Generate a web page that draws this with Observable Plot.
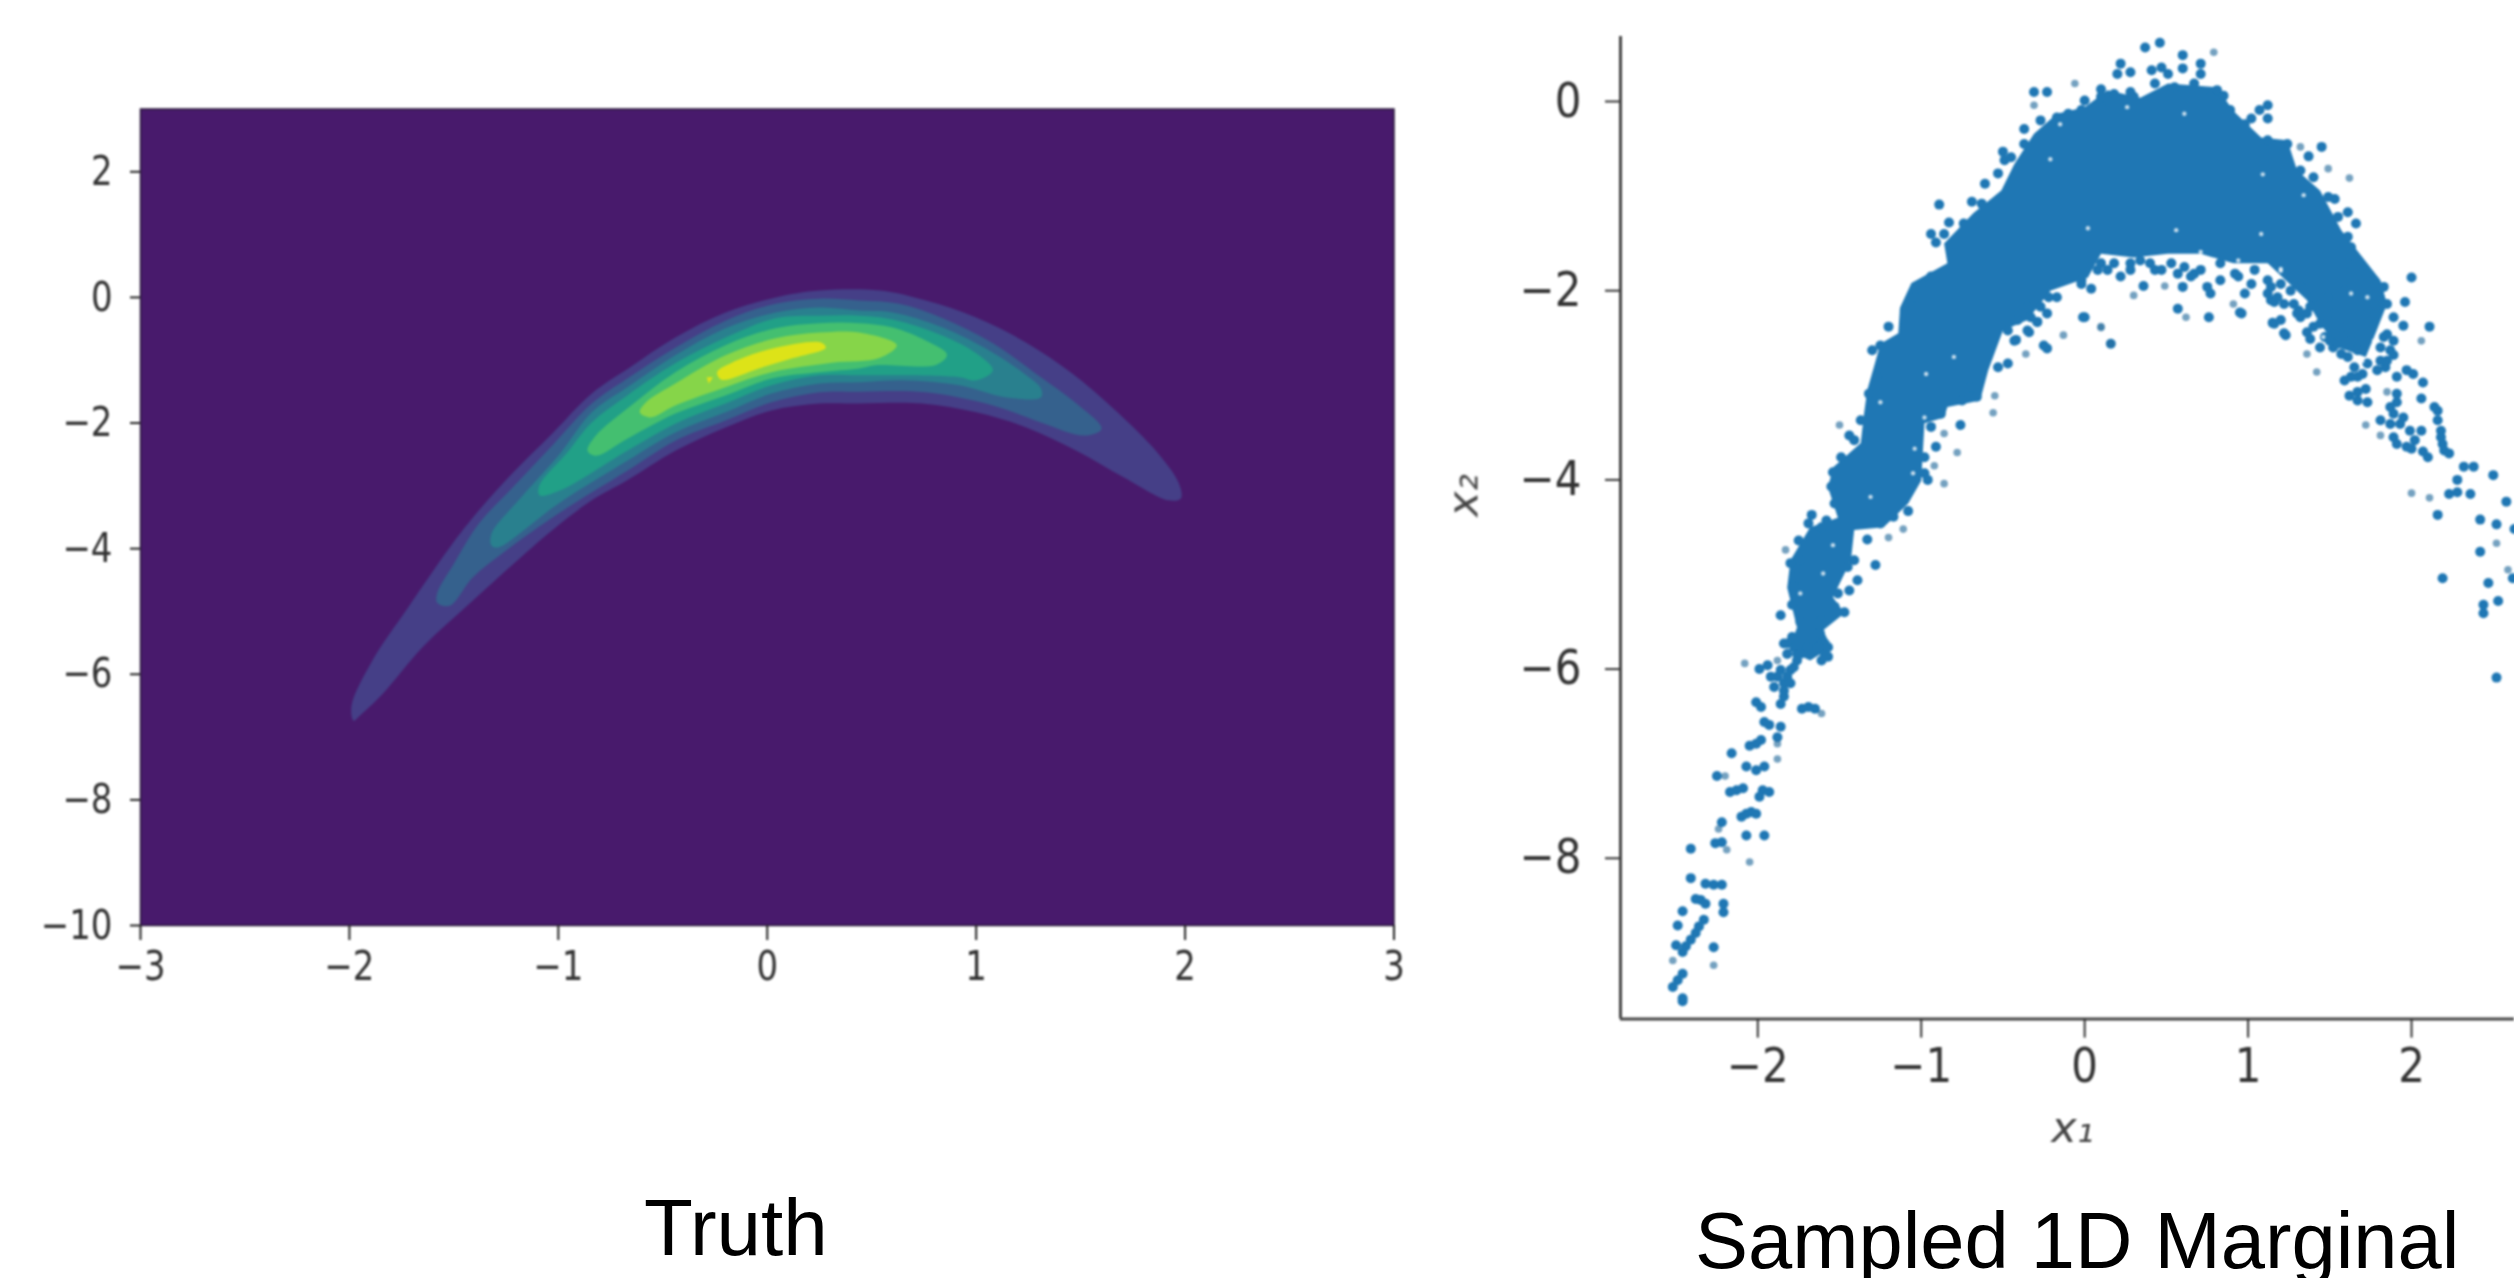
<!DOCTYPE html>
<html>
<head>
<meta charset="utf-8">
<script src="https://cdn.jsdelivr.net/npm/d3@7"></script>
<script src="https://cdn.jsdelivr.net/npm/@observablehq/plot@0.6"></script>
<style>
html,body{margin:0;padding:0;background:#fff;overflow:hidden;width:2514px;height:1278px}
#wrap{position:relative;width:2514px;height:1278px;overflow:hidden}
#wrap svg{position:absolute;top:0;filter:blur(0.8px)}
.cap{position:absolute;font-family:"Liberation Sans",Arial,sans-serif;line-height:1;color:#000;white-space:nowrap}
</style>
</head>
<body>
<div id="wrap"></div>
<script>
// ---------- Truth panel: filled density bands, [x1, x2] ----------
const truthTicksX = [-3, -2, -1, 0, 1, 2, 3];
const truthTicksY = [2, 0, -2, -4, -6, -8, -10];
const bandColors = ["#453f87", "#35618d", "#29808e", "#21a087", "#44bf70", "#86d549", "#dde318"];
const band1 = [[-1.98,-6.74],[-1.99,-6.50],[-1.89,-5.78],[-1.72,-4.94],[-1.52,-3.98],[-1.38,-3.39],[-1.22,-2.80],[-1.03,-2.17],[-0.84,-1.53],[-0.66,-1.12],[-0.44,-0.64],[-0.20,-0.24],[0.04,0],[0.25,0.11],[0.54,0.11],[0.76,-0.05],[1.00,-0.32],[1.24,-0.72],[1.46,-1.21],[1.65,-1.75],[1.87,-2.48],[1.97,-2.96],[1.98,-3.20],[1.92,-3.23],[1.71,-2.87],[1.48,-2.44],[1.24,-2.07],[1.00,-1.83],[0.74,-1.69],[0.44,-1.69],[0.25,-1.69],[0.02,-1.80],[-0.20,-2.07],[-0.44,-2.44],[-0.67,-2.91],[-0.84,-3.23],[-1.03,-3.71],[-1.18,-4.14],[-1.41,-4.83],[-1.65,-5.57],[-1.84,-6.31],[-1.95,-6.66]];
const band2 = [[-1.58,-4.86],[-1.58,-4.71],[-1.50,-4.24],[-1.38,-3.60],[-1.22,-3.03],[-1.03,-2.36],[-0.84,-1.69],[-0.67,-1.29],[-0.44,-0.80],[-0.20,-0.37],[0.04,-0.10],[0.25,-0.02],[0.44,-0.05],[0.63,-0.10],[0.84,-0.33],[1.08,-0.73],[1.31,-1.27],[1.48,-1.69],[1.60,-2.09],[1.52,-2.20],[1.31,-1.99],[1.08,-1.72],[0.76,-1.51],[0.44,-1.50],[0.25,-1.51],[0.02,-1.67],[-0.20,-1.96],[-0.44,-2.28],[-0.67,-2.76],[-0.99,-3.42],[-1.25,-4.03],[-1.41,-4.46],[-1.52,-4.91]];
const band3 = [[-1.32,-3.95],[-1.32,-3.76],[-1.18,-3.19],[-0.99,-2.48],[-0.84,-1.83],[-0.67,-1.43],[-0.44,-0.92],[-0.20,-0.49],[0.04,-0.24],[0.25,-0.16],[0.44,-0.21],[0.60,-0.24],[0.84,-0.48],[1.08,-0.88],[1.24,-1.24],[1.31,-1.45],[1.31,-1.59],[1.14,-1.59],[0.92,-1.40],[0.65,-1.32],[0.44,-1.35],[0.25,-1.37],[0.02,-1.53],[-0.20,-1.83],[-0.44,-2.15],[-0.67,-2.60],[-0.99,-3.26],[-1.29,-3.98]];
const band4 = [[-1.09,-3.15],[-1.09,-2.99],[-0.96,-2.48],[-0.84,-1.99],[-0.67,-1.56],[-0.44,-1.05],[-0.20,-0.64],[0.04,-0.33],[0.25,-0.29],[0.44,-0.29],[0.60,-0.35],[0.84,-0.61],[1.00,-0.89],[1.08,-1.16],[1.00,-1.32],[0.92,-1.27],[0.63,-1.24],[0.44,-1.24],[0.25,-1.24],[0.02,-1.40],[-0.20,-1.69],[-0.44,-2.01],[-0.67,-2.44],[-0.99,-3.07]];
const band5 = [[-0.86,-2.44],[-0.82,-2.20],[-0.67,-1.77],[-0.44,-1.19],[-0.20,-0.76],[0.04,-0.49],[0.25,-0.41],[0.44,-0.41],[0.60,-0.48],[0.76,-0.69],[0.86,-0.91],[0.81,-1.07],[0.52,-1.08],[0.44,-1.13],[0.25,-1.19],[0.02,-1.29],[-0.20,-1.56],[-0.44,-1.85],[-0.67,-2.25],[-0.82,-2.52]];
const band6 = [[-0.61,-1.83],[-0.58,-1.67],[-0.44,-1.37],[-0.20,-0.92],[0.04,-0.65],[0.25,-0.56],[0.44,-0.56],[0.62,-0.76],[0.54,-0.96],[0.31,-1.04],[0.02,-1.19],[-0.20,-1.43],[-0.44,-1.72],[-0.56,-1.91]];
const band7 = [[-0.24,-1.19],[-0.17,-1.04],[0.04,-0.80],[0.26,-0.72],[0.28,-0.80],[0.12,-0.97],[-0.04,-1.13],[-0.22,-1.31]];
const band7b = [[-0.29,-1.27],[-0.26,-1.27],[-0.28,-1.37]];

// ---------- Sampled panel: dense core outline and the separately visible samples, [x1, x2] ----------
const sampleTicksX = [-2, -1, 0, 1, 2];
const sampleTicksY = [0, -2, -4, -6, -8];
const denseCore = [[-1.81,-5.80],[-1.76,-5.56],[-1.82,-5.14],[-1.80,-4.85],[-1.68,-4.50],[-1.51,-4.40],[-1.57,-4.08],[-1.54,-3.87],[-1.37,-3.61],[-1.35,-3.30],[-1.33,-3.05],[-1.29,-2.81],[-1.25,-2.56],[-1.14,-2.45],[-1.13,-2.18],[-1.06,-1.92],[-0.84,-1.71],[-0.86,-1.50],[-0.68,-1.18],[-0.51,-0.94],[-0.43,-0.66],[-0.31,-0.34],[-0.17,-0.13],[0,-0.06],[0.14,0.12],[0.34,0.04],[0.51,0.19],[0.81,0.15],[0.91,-0.10],[1.08,-0.38],[1.24,-0.41],[1.30,-0.73],[1.44,-0.94],[1.57,-1.36],[1.81,-1.89],[1.85,-2.14],[1.78,-2.45],[1.72,-2.70],[1.55,-2.60],[1.44,-2.35],[1.36,-2.10],[1.12,-1.71],[0.91,-1.71],[0.71,-1.61],[0.51,-1.61],[0.30,-1.65],[0.10,-1.61],[0.02,-1.86],[-0.21,-2.00],[-0.35,-2.31],[-0.50,-2.42],[-0.59,-2.84],[-0.64,-3.16],[-0.84,-3.23],[-0.86,-3.34],[-0.98,-3.40],[-1.00,-4.01],[-1.08,-4.25],[-1.23,-4.50],[-1.41,-4.53],[-1.43,-4.85],[-1.54,-5.24],[-1.47,-5.41],[-1.60,-5.59],[-1.55,-5.77],[-1.68,-5.91]];
const largeDots = [[-1.84,-5.73],[-1.76,-5.84],[-1.61,-5.73],[-1.57,-5.87],[-1.99,-6.00],[-1.94,-5.96],[-1.88,-6.08],[-1.84,-6.15],[-1.80,-6.01],[-1.76,-5.91],[-1.84,-6.29],[-1.86,-6.37],[-2.01,-6.35],[-1.98,-6.40],[-1.96,-6.56],[-1.93,-6.59],[-1.86,-6.61],[-1.88,-6.72],[-1.69,-6.40],[-1.73,-6.42],[-1.65,-6.42],[-2.01,-6.79],[-2.05,-6.81],[-1.98,-6.75],[-2.16,-6.89],[-2.07,-7.03],[-2.01,-7.07],[-1.96,-7.03],[-2.25,-7.13],[-2.13,-7.28],[-2.09,-7.26],[-2.17,-7.30],[-1.97,-7.28],[-1.93,-7.30],[-1.99,-7.35],[-2.04,-7.51],[-2.01,-7.53],[-2.10,-7.56],[-2.07,-7.53],[-2.22,-7.62],[-2.07,-7.76],[-1.96,-7.76],[-2.41,-7.90],[-2.26,-7.84],[-2.22,-7.83],[-2.41,-8.21],[-2.32,-8.27],[-2.27,-8.28],[-2.22,-8.28],[-2.35,-8.44],[-2.38,-8.43],[-2.32,-8.48],[-2.21,-8.48],[-2.21,-8.57],[-2.46,-8.56],[-2.49,-8.71],[-2.33,-8.65],[-2.36,-8.72],[-2.38,-8.79],[-2.41,-8.86],[-2.44,-8.93],[-2.46,-8.99],[-2.50,-8.92],[-2.27,-8.94],[-2.46,-9.22],[-2.49,-9.29],[-2.52,-9.36],[-2.46,-9.51],[-2.46,-9.48],
[-1.20,-2.38],[-1.25,-2.58],[-1.30,-2.63],[-1.32,-3.09],[-1.44,-3.53],[-1.54,-3.92],[-1.67,-4.37],[-1.69,-4.46],[-1.58,-4.43],[-1.75,-4.64],[-1.80,-4.88],[-1.78,-5.13],[-1.79,-5.32],[-1.86,-5.43],[0,-2.28],[0.16,-2.56],[-0.23,-2.61],[-0.29,-2.33],[-0.34,-2.44],[-0.43,-2.53],[-0.47,-2.77],[-0.53,-2.81],[-0.70,-3.02],[-0.75,-3.16],[-0.66,-3.12],[-0.76,-3.42],[-0.91,-3.65],[-0.98,-3.93],[-1.08,-4.33],[-1.33,-4.63],[-1.41,-4.85],[-1.28,-4.90],[-1.39,-5.06],[-1.44,-5.17],[-1.47,-5.40],[-1.62,-5.62],[-1.59,-5.73],[-1.65,-5.52],[-1.82,-5.73],[-1.79,-5.66],[-1.74,-5.50],
[0.37,0.57],[0.46,0.62],[-0.31,0.10],[-0.23,0.10],[-0.37,-0.29],[-0.50,-0.53],[-0.49,-0.62],[-0.69,-1.06],[-0.89,-1.09],[-0.83,-1.28],[-0.94,-1.40],[-0.91,-1.49],[-0.86,-1.40],[0.22,0.40],[0.28,0.31],[0.20,0.29],[0.47,0.36],[0.41,0.33],[0.51,0.29],[0.60,0.49],[0.60,0.35],[0.71,0.40],[0.71,0.29],[0.10,0.13],[0,0.01],[0.18,0.08],[0.28,0.10],[0.81,0.12],[0.85,0.06],[1.12,-0.04],[1.07,-0.09],[1.02,-0.18],[1.12,-0.18],[1.45,-0.48],[1.37,-0.58],[1.53,-1.03],[1.61,-1.17],[1.66,-1.29],[1.63,-1.54],[0.36,-1.95],[0.60,-1.96],[0.65,-1.85],[0.57,-2.19],[0.76,-2.28],[0.96,-2.24],[0.77,-2.03],[0.83,-1.89],[0.98,-2.03],[1.14,-2.10],[1.22,-2.14],[1.30,-2.24],[1.16,-2.35],[1.23,-2.47],[0.04,-1.98],[-0.02,-1.89],[0.10,-1.71],[-0.22,-2.07],[-0.29,-2.33],[-0.35,-2.42],[-0.42,-2.52],[-0.01,-2.28],[-0.25,-2.58],[1.40,-2.38],[1.38,-2.51],[1.47,-2.49],[0.28,-1.71],[0.40,-1.71],[0.53,-1.71],
[2.00,-1.86],[1.96,-2.12],[1.95,-2.37],[2.11,-2.38],[1.16,-2.12],[1.15,-2.34],[1.22,-2.45],[1.36,-2.44],[1.44,-2.60],[1.59,-2.95],[1.62,-3.11],[1.67,-3.16],[1.73,-3.18],[1.70,-2.88],[1.72,-3.04],[1.84,-2.81],[1.89,-2.68],[2.01,-2.88],[2.07,-2.97],[2.06,-3.14],[1.91,-3.18],[1.81,-3.37],[1.89,-3.30],[1.93,-3.41],[1.89,-3.55],[1.97,-3.65],[2.02,-3.58],[2.06,-3.48],[2.10,-3.76],[2.07,-3.70],[2.14,-3.23],[2.16,-3.37],[2.18,-3.48],[2.19,-3.62],[2.23,-3.72],[2.32,-3.86],[2.38,-3.86],[2.50,-3.95],[2.28,-4.00],[2.23,-4.15],[2.28,-4.13],[2.36,-4.15],[2.16,-4.37],[2.58,-4.23],[2.42,-4.42],[2.52,-4.47],[2.63,-4.52],[2.42,-4.76],[2.19,-5.04],[2.47,-5.09],[2.62,-5.04],[2.53,-5.28],[2.44,-5.32],[2.44,-5.41],[2.52,-6.09],[0.95,-2.23],[1.31,-2.21],
[-1.00,-1.93],[-1.04,-2.07],[-0.94,-1.85],[-0.74,-1.29],[-0.63,-1.08],[-0.61,-0.87],[-0.53,-0.76],[-0.45,-0.59],[-0.37,-0.45],[-0.27,-0.20],[-0.17,-0.17],[-0.10,-0.13],[-0.02,-0.09],[0.10,0.05],[0.14,0.01],[0.30,0.05],[0.43,0.19],[0.55,0.15],[0.67,0.19],[0.77,0.05],[0.89,-0.09],[0.98,-0.24],[1.12,-0.41],[1.24,-0.45],[1.32,-0.73],[1.40,-0.80],[1.49,-1.01],[1.55,-1.22],[1.61,-1.43],[1.61,-1.71],[1.59,-2.00],[1.32,-2.28],[1.26,-2.00],[1.14,-1.96],[1.02,-1.93],[0.94,-1.85],[0.75,-1.96],[0.67,-1.82],[0.57,-1.82],[0.43,-1.78],[0.28,-1.78],[0.14,-1.78],[0.08,-1.78],[-0.02,-1.93],[-0.17,-2.07],[-0.27,-2.17],[-0.33,-2.28],[-0.47,-2.42],
[1.83,-1.96],[1.85,-2.14],[1.77,-1.89],[1.89,-2.28],[1.85,-2.46],[1.87,-2.63],[1.81,-2.74],[1.57,-2.67],[1.52,-2.60],[1.44,-2.35],[1.73,-2.77],[1.65,-2.81],[1.67,-2.91],
[-1.10,-2.21],[-1.27,-2.91],[-1.37,-3.37],[-1.41,-3.58],[-1.49,-3.76],[-1.55,-4.07],[-1.53,-4.25],[-1.61,-4.50],[-1.66,-4.57],[-1.74,-4.85],[-1.76,-5.03],[-0.88,-3.30],[-0.94,-3.44],[-0.98,-3.76],[-0.96,-4.00],[-1.17,-4.39],[-1.25,-4.46],[-1.45,-4.92],[-1.51,-5.20],[-1.53,-5.34],[-1.61,-5.48],
[1.57,-2.39],[1.63,-2.53],[1.55,-2.56],[1.67,-2.63],[1.61,-2.70],[1.83,-2.49],[1.81,-2.60],[1.89,-2.53],[1.79,-2.84],[1.85,-2.74],[1.67,-3.07],[1.63,-2.91],[1.91,-2.91],[1.97,-2.84],[1.91,-3.09],[1.87,-3.23],[1.95,-3.34],[1.87,-3.41],[1.99,-3.48],[1.91,-3.62],[2.00,-3.67],[2.16,-3.27],[2.18,-3.55],[2.20,-3.69],[1.36,-2.24],[1.50,-2.53],[1.20,-2.31],
[-1.82,-5.84],[-1.78,-5.98],[-1.86,-6.01],[-1.92,-6.08],[-1.90,-6.19],[-1.82,-6.08],[-1.80,-6.15],[-1.84,-6.23],[-1.59,-5.84],[-1.63,-5.77],[-1.57,-5.77],[-1.61,-5.91],[-1.70,-5.77],[-1.74,-5.84],
[0.18,-1.71],[0.22,-1.85],[0.34,-1.68],[0.47,-1.78],[0.61,-1.75],[0.71,-1.78],[0.83,-1.71],[0.92,-1.82],[1.04,-1.78],[1.12,-1.89],[1.20,-1.93],[1.32,-1.96],[1.40,-2.07],[1.49,-2.07],[1.53,-2.24],[1.38,-2.17],[1.12,-2.03],[1.18,-2.07],[1.28,-2.14],[-0.35,-2.17],[-0.23,-2.24],[-0.41,-2.31]];
const smallDots = [[-2.08,-5.94],[-1.88,-5.91],[-1.88,-6.79],[-1.88,-6.95],[-1.61,-6.47],[-2.20,-7.13],[-2.24,-7.69],[-2.19,-7.91],[-2.05,-8.04],[-2.27,-9.13],[-2.52,-9.08],[-1.50,-3.42],[-1.83,-4.74],[0.10,-2.39],[-0.13,-2.47],[-0.36,-2.67],[-0.55,-3.11],[-0.56,-3.29],[-0.86,-3.51],[-0.78,-3.71],[-0.92,-3.85],[-0.86,-4.04],[-1.11,-4.52],[-1.20,-4.61],[0.79,0.52],[-0.06,0.19],[-0.31,-0.04],[1.32,-0.48],[1.49,-0.71],[1.62,-0.81],[0.30,-2.05],[0.49,-1.95],[0.62,-2.28],[0.91,-2.14],[0.10,-2.38],[0.16,-2.56],[2.06,-2.53],[1.36,-2.67],[1.42,-2.86],[1.85,-3.07],[1.72,-3.42],[1.81,-3.53],[2.00,-4.14],[2.11,-4.19],[2.52,-4.67],[2.59,-4.95]];
// small uncovered specks inside the dense core
const coverageGaps = [[-0.80,-2.70],[-0.97,-2.88],[-0.98,-3.34],[-1.04,-3.67],[-1.05,-3.93],[-1.31,-4.18],[-1.54,-4.69],[-1.60,-4.99],[-1.74,-5.20],[-1.25,-3.18],[0.56,-1.36],[1.08,-1.40],[1.34,-0.99],[0.71,-1.59],[1.20,-1.77],[1.09,-0.77],[0.02,-1.34],[-0.15,-0.24],[0.26,-0.06],[-0.51,-0.83],[0.94,-1.68],[-0.21,-0.61],[0.61,-0.13],[1.63,-2.03],[1.73,-2.07],[1.77,-2.53],[1.46,-2.49],[1.70,-2.74],[1.20,-1.79]];

const wrap = document.getElementById("wrap");
const px = d => d[0], py = d => d[1];
const intTick = d3.format("d");
const stretchTicks = (svg, s) => svg.querySelectorAll('g[aria-label$="tick label"] text').forEach(t => {
  t.setAttribute("transform", (t.getAttribute("transform") || "") + ` scale(1,${s})`);
});
const place = (svg, left) => { svg.style.left = left + "px"; wrap.appendChild(svg); };

// Truth
const bands = [band1, band2, band3, band4, band5, band6, band7, band7b];
const bandFill = i => bandColors[Math.min(i, bandColors.length - 1)];
const truth = Plot.plot({
  width: 1450, height: 1040,
  marginLeft: 140, marginRight: 56.5, marginTop: 108.5, marginBottom: 115,
  x: {domain: [-3, 3], label: null},
  y: {domain: [-10, 3], label: null},
  style: {fontFamily: "DejaVu Sans", background: "transparent", overflow: "visible"},
  marks: [
    Plot.frame({fill: "#481a6c", stroke: "#2a1a3a", strokeWidth: 1.5}),
    ...bands.map((b, i) => Plot.line(b, {x: px, y: py, fill: bandFill(i), stroke: "none", curve: i === 7 ? "linear-closed" : "catmull-rom-closed"})),
    Plot.axisX({ticks: truthTicksX, tickFormat: intTick, tickSize: 15, tickPadding: 10, fontSize: 34, stroke: "#222", strokeWidth: 2, fill: "#333", label: null}),
    Plot.axisY({ticks: truthTicksY, tickFormat: intTick, tickSize: 10, tickPadding: 18, fontSize: 34, stroke: "#222", strokeWidth: 2, fill: "#333", label: null})
  ]
});
stretchTicks(truth, 1.21);
place(truth, 0);

// Sampled
const dotBlue = "#1f77b4";
const sampled = Plot.plot({
  width: 1064, height: 1278,
  marginLeft: 170, marginRight: 0, marginTop: 36, marginBottom: 259.4,
  x: {domain: [-2.84, 2.63], label: null},
  y: {domain: [-9.7, 0.687], label: null},
  style: {fontFamily: "DejaVu Sans", background: "transparent", overflow: "visible"},
  marks: [
    Plot.line(denseCore, {x: px, y: py, fill: dotBlue, stroke: "none", curve: "linear-closed"}),
    Plot.dot(largeDots, {x: px, y: py, r: 5, fill: dotBlue}),
    Plot.dot(smallDots, {x: px, y: py, r: 3.8, fill: "#2a6f9e", fillOpacity: 0.65}),
    Plot.dot(coverageGaps, {x: px, y: py, r: 2.2, fill: "#fff", fillOpacity: 0.75}),
    Plot.ruleX([-2.84], {stroke: "#444", strokeWidth: 3}),
    Plot.ruleY([-9.7], {stroke: "#444", strokeWidth: 3}),
    Plot.axisX({ticks: sampleTicksX, tickFormat: intTick, tickSize: 19, tickPadding: 10, fontSize: 42, stroke: "#333", strokeWidth: 2, fill: "#333", label: null}),
    Plot.axisY({ticks: sampleTicksY, tickFormat: intTick, tickSize: 15, tickPadding: 24, fontSize: 42, stroke: "#333", strokeWidth: 2, fill: "#333", label: null}),
    Plot.text(["x₁"], {frameAnchor: "bottom", dx: 5, dy: 123, fontSize: 43, fontStyle: "italic", fill: "#444"}),
    Plot.text(["x₂"], {frameAnchor: "left", dx: -157, dy: -11, rotate: -90, fontSize: 43, fontStyle: "italic", fill: "#444"})
  ]
});
stretchTicks(sampled, 1.13);
place(sampled, 1450);

// Captions
const captions = [
  {text: "Truth", left: 644, top: 1188, size: 80},
  {text: "Sampled 1D Marginal", left: 1695, top: 1201, size: 79.5}
];
captions.forEach(c => {
  const d = document.createElement("div");
  d.className = "cap";
  d.textContent = c.text;
  d.style.left = c.left + "px";
  d.style.top = c.top + "px";
  d.style.fontSize = c.size + "px";
  wrap.appendChild(d);
});
</script>
</body>
</html>
